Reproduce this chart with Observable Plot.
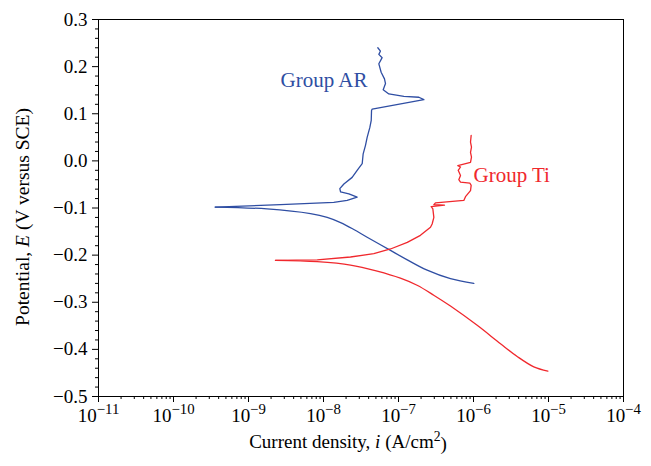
<!DOCTYPE html>
<html><head><meta charset="utf-8">
<script src="https://cdn.jsdelivr.net/npm/d3@7"></script>
<script src="https://cdn.jsdelivr.net/npm/@observablehq/plot@0.6"></script>
<style>
html,body{margin:0;padding:0;background:#fff;}
svg text, svg tspan{font-family:'Liberation Serif','DejaVu Serif',serif;}
</style></head><body><div id="chart"></div>
<script>
// Group AR (blue) — anodic branch from corrosion potential upward
const arAnodicI = [3.6e-10, 2.67e-9, 1.37e-8, 2.07e-8, 2.81e-8, 2.18e-8, 1.69e-8, 1.65e-8, 1.87e-8, 2.41e-8, 2.81e-8, 3.28e-8, 3.38e-8, 3.63e-8, 3.82e-8, 4.15e-8, 4.33e-8, 4.37e-8, 4.46e-8, 2.18e-7, 1.87e-7, 1.18e-7, 7.43e-8, 6.25e-8, 6.71e-8, 6.5e-8, 5.87e-8, 5.47e-8, 6.05e-8, 5.47e-8, 5.75e-8, 5.3e-8];
const arAnodicE = [-0.098, -0.093, -0.088, -0.084, -0.077, -0.070, -0.066, -0.059, -0.049, -0.035, -0.020, -0.006, 0.015, 0.033, 0.050, 0.071, 0.086, 0.107, 0.110, 0.130, 0.135, 0.137, 0.142, 0.151, 0.164, 0.174, 0.188, 0.206, 0.219, 0.226, 0.233, 0.240];
// Group AR — cathodic branch
const arCathodicI = [3.6e-10, 1.77e-9, 6.71e-9, 1.12e-8, 1.69e-8, 2.5e-8, 3.82e-8, 7.82e-8, 1.31e-7, 2.41e-7, 4.93e-7, 1.01e-6];
const arCathodicE = [-0.098, -0.102, -0.112, -0.120, -0.131, -0.145, -0.162, -0.190, -0.210, -0.232, -0.250, -0.260];

// Group Ti (red) — anodic branch
const tiAnodicI = [2.29e-9, 8.24e-9, 2.29e-8, 4.69e-8, 7.82e-8, 1.31e-7, 1.96e-7, 2.67e-7, 2.81e-7, 2.96e-7, 2.87e-7, 2.73e-7, 4.1e-7, 2.96e-7, 3.11e-7, 7.43e-7, 7.82e-7, 9.12e-7, 9.31e-7, 8.93e-7, 6.71e-7, 6.37e-7, 6.71e-7, 6.25e-7, 6.71e-7, 6.18e-7, 9.12e-7, 9.4e-7, 9.12e-7, 9.4e-7, 9.12e-7, 9.31e-7];
const tiAnodicE = [-0.211, -0.210, -0.204, -0.197, -0.187, -0.173, -0.158, -0.141, -0.134, -0.120, -0.102, -0.097, -0.094, -0.093, -0.089, -0.084, -0.076, -0.063, -0.052, -0.047, -0.045, -0.040, -0.031, -0.020, -0.013, -0.010, -0.003, 0.008, 0.018, 0.029, 0.040, 0.054];
// Group Ti — cathodic branch
const tiCathodicI = [2.29e-9, 8.24e-9, 2.29e-8, 5.2e-8, 1.06e-7, 1.77e-7, 2.95e-7, 4.93e-7, 1.12e-6, 2.29e-6, 3.82e-6, 6.37e-6, 9.8e-6];
const tiCathodicE = [-0.211, -0.214, -0.221, -0.234, -0.249, -0.264, -0.285, -0.308, -0.349, -0.388, -0.415, -0.437, -0.446];

// Labels
const labelText = ["Group AR", "Group Ti"];
const labelI = [2.67e-9, 1.0e-6];
const labelE = [0.170, -0.031];
const labelColor = ["#2f4ea3", "#f0282d"];

// Axis ticks
const xMajor = [1e-11, 1e-10, 1e-9, 1e-8, 1e-7, 1e-6, 1e-5, 1e-4];
const xMajorLabel = ["10^−11", "10^−10", "10^−9", "10^−8", "10^−7", "10^−6", "10^−5", "10^−4"];
const yMajor = [-0.5, -0.4, -0.3, -0.2, -0.1, 0.0, 0.1, 0.2, 0.3];
const xTitle = "Current density, i (A/cm2)";
const yTitle = "Potential, E (V versus SCE)";

const BLUE = "#2f4ea3", RED = "#f0282d";
const FONT = "'Liberation Serif', 'DejaVu Serif', serif";

const xMinor = [];
for (let e = -11; e < -4; e++) for (let k = 2; k <= 9; k++) xMinor.push(k * Math.pow(10, e));
const yMinor = [];
for (let v = -50; v <= 30; v += 2) if (v % 10 !== 0) yMinor.push(v / 100);

const rows = (I, E) => I.map((v, k) => ({i: v, E: E[k]}));
const labels = labelText.map((t, k) => ({t, i: labelI[k], E: labelE[k], c: labelColor[k]}));

const plot = Plot.plot({
  width: 651, height: 466,
  marginLeft: 98, marginRight: 28, marginTop: 19, marginBottom: 70,
  style: {fontFamily: FONT, fontSize: "19px", background: "#fff", color: "#000"},
  x: {type: "log", domain: [1e-11, 1e-4]},
  y: {domain: [-0.5, 0.3]},
  marks: [
    Plot.axisX(xMinor, {tickSize: 3, tickFormat: () => "", label: null}),
    Plot.axisX(xMajor, {tickSize: 6, tickPadding: 6, tickFormat: (d) => xMajorLabel[xMajor.indexOf(d)], label: null, fontSize: 19}),
    Plot.axisY(yMinor, {tickSize: 3, tickFormat: () => "", label: null}),
    Plot.axisY(yMajor, {tickSize: 6, tickPadding: 5, tickFormat: d3.format(".1f"), label: null, fontSize: 19}),
    Plot.frame({stroke: "#000", strokeWidth: 1}),
    Plot.line(rows(arCathodicI, arCathodicE), {x: "i", y: "E", stroke: BLUE, strokeWidth: 1.3, curve: "catmull-rom"}),
    Plot.line(rows(arAnodicI, arAnodicE), {x: "i", y: "E", stroke: BLUE, strokeWidth: 1.3}),
    Plot.line(rows(tiCathodicI, tiCathodicE), {x: "i", y: "E", stroke: RED, strokeWidth: 1.3, curve: "catmull-rom"}),
    Plot.line(rows(tiAnodicI, tiAnodicE), {x: "i", y: "E", stroke: RED, strokeWidth: 1.3}),
    Plot.text(labels, {x: "i", y: "E", text: "t", fill: "c", textAnchor: "start", fontSize: 21}),
    Plot.text([xTitle], {frameAnchor: "bottom", textAnchor: "middle", lineAnchor: "middle", dx: -13, dy: 45, fontSize: 19}),
    Plot.text([yTitle], {frameAnchor: "left", textAnchor: "middle", lineAnchor: "middle", dx: -76, dy: 9, rotate: -90, fontSize: 19.5})
  ]
});

// Rich text post-processing (superscripts and italics)
d3.select(plot).selectAll("text").each(function () {
  const t = this.textContent;
  const sel = d3.select(this).attr("font-family", FONT);
  if (t.startsWith("10^")) {
    sel.text("10");
    sel.append("tspan").attr("dy", "-0.55em").attr("font-size", "0.78em").text(t.slice(3));
  } else if (t === xTitle) {
    sel.text("Current density, ");
    sel.append("tspan").attr("font-style", "italic").text("i");
    sel.append("tspan").text(" (A/cm");
    sel.append("tspan").attr("dy", "-0.45em").attr("font-size", "0.72em").text("2");
    sel.append("tspan").attr("dy", "0.45em").text(")");
  } else if (t === yTitle) {
    sel.text("Potential, ");
    sel.append("tspan").attr("font-style", "italic").text("E");
    sel.append("tspan").text(" (V versus SCE)");
  }
});

document.getElementById("chart").appendChild(plot);
</script>
</body></html>
